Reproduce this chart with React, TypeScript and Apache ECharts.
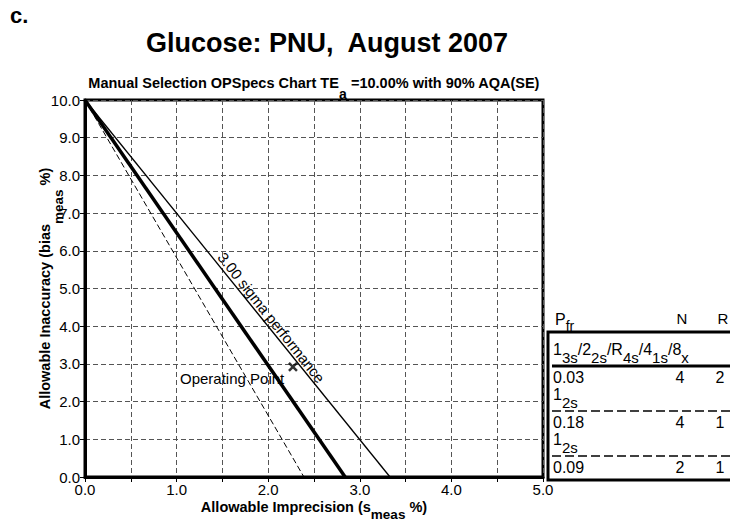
import React, { useEffect, useRef } from "react";
import * as echarts from "echarts";

const FONT = '"Liberation Sans", Arial, sans-serif';

// Lines in the OPSpecs chart (allowable imprecision, allowable inaccuracy)
const sigmaLine: number[][] = [[0, 10], [3.33, 0]];
const rule1Line: number[][] = [[0, 10], [2.84, 0]];
const rule2Line: number[][] = [[0, 10], [2.39, 0]];
const operatingPoint: number[][] = [[2.27, 2.92]];

const xTicks = [0, 1, 2, 3, 4, 5];
const yTicks = [0, 1, 2, 3, 4, 5, 6, 7, 8, 9, 10];

// Legend table
const ruleLabels = [
  "{m|1}{s|3s}{m|/2}{s|2s}{m|/R}{s|4s}{m|/4}{s|1s}{m|/8}{s|x}",
  "{m|1}{s|2s}",
  "{m|1}{s|2s}",
];
const pfrValues = ["0.03", "0.18", "0.09"];
const nValues = ["4", "4", "2"];
const rValues = ["2", "1", "1"];
const ruleLineStyles = ["thick", "dashed", "dashed"];

export default function App() {
  const ref = useRef<HTMLDivElement>(null);

  useEffect(() => {
    if (!ref.current) return;
    const chart = echarts.init(ref.current, null, { renderer: "svg" });

    const richSub = (size: number, subSize: number, weight: string) => ({
      m: { fontSize: size, fontWeight: weight, fontFamily: FONT, color: "#000", verticalAlign: "top" },
      s: { fontSize: subSize, fontWeight: weight, fontFamily: FONT, color: "#000", verticalAlign: "bottom" },
    });

    const tableEls: any[] = [];
    tableEls.push({
      type: "rect",
      shape: { x: 548, y: 332, width: 200, height: 148 },
      style: { fill: "none", stroke: "#000", lineWidth: 3 },
    });
    tableEls.push({
      type: "text",
      style: {
        text: "{m|P}{s|fr}",
        x: 555,
        y: 322,
        align: "left",
        verticalAlign: "middle",
        lineHeight: 22,
        rich: richSub(16, 14, "normal"),
      },
    });
    tableEls.push({
      type: "text",
      style: { text: "N", x: 682, y: 318, align: "center", verticalAlign: "middle", font: `15px ${FONT}`, fill: "#000" },
    });
    tableEls.push({
      type: "text",
      style: { text: "R", x: 723, y: 318, align: "center", verticalAlign: "middle", font: `15px ${FONT}`, fill: "#000" },
    });
    ruleLabels.forEach((lab, i) => {
      const lineY = 366 + 45 * i;
      tableEls.push({
        type: "text",
        style: {
          text: lab,
          x: 553,
          y: lineY - 1,
          align: "left",
          verticalAlign: "bottom",
          lineHeight: 24,
          rich: richSub(16, 15, "normal"),
        },
      });
      tableEls.push({
        type: "line",
        shape: { x1: 552, y1: lineY, x2: 735, y2: lineY },
        style:
          ruleLineStyles[i] === "thick"
            ? { stroke: "#000", lineWidth: 3 }
            : { stroke: "#000", lineWidth: 1.5, lineDash: [9, 4] },
      });
      tableEls.push({
        type: "text",
        style: { text: pfrValues[i], x: 553, y: lineY + 11, align: "left", verticalAlign: "middle", font: `16px ${FONT}`, fill: "#000" },
      });
      tableEls.push({
        type: "text",
        style: { text: nValues[i], x: 680, y: lineY + 11, align: "center", verticalAlign: "middle", font: `16px ${FONT}`, fill: "#000" },
      });
      tableEls.push({
        type: "text",
        style: { text: rValues[i], x: 720, y: lineY + 11, align: "center", verticalAlign: "middle", font: `16px ${FONT}`, fill: "#000" },
      });
    });

    const axisNameRich = {
      b: { fontSize: 14.5, fontWeight: "bold", fontFamily: FONT, color: "#000", verticalAlign: "top" },
      s: { fontSize: 13.5, fontWeight: "bold", fontFamily: FONT, color: "#000", verticalAlign: "bottom" },
    };

    const option: any = {
      animation: false,
      grid: {
        left: 85,
        top: 100,
        width: 458,
        height: 380,
        show: true,
        borderColor: "#000",
        borderWidth: 3,
        backgroundColor: "transparent",
      },
      xAxis: {
        type: "value",
        min: 0,
        max: 5,
        interval: 0.5,
        axisLine: { show: true, onZero: false, lineStyle: { color: "#000", width: 3 } },
        axisTick: { show: true, length: 5, lineStyle: { color: "#000", width: 1 } },
        axisLabel: {
          formatter: (v: number) => (xTicks.includes(v) ? v.toFixed(1) : ""),
          color: "#000",
          fontSize: 15,
          fontFamily: FONT,
          margin: 5,
        },
        splitLine: { show: true, lineStyle: { color: "#555", type: [5, 3], width: 1 } },
        name: "{b|Allowable Imprecision (s}{s|meas}{b| %)}",
        nameLocation: "middle",
        nameGap: 22,
        nameMoveOverlap: false,
        nameTextStyle: { lineHeight: 22, rich: axisNameRich },
      },
      yAxis: {
        type: "value",
        min: 0,
        max: 10,
        interval: 1,
        axisLine: { show: true, onZero: false, lineStyle: { color: "#000", width: 3 } },
        axisTick: { show: true, length: 5, lineStyle: { color: "#000", width: 1 } },
        axisLabel: {
          formatter: (v: number) => (yTicks.includes(v) ? v.toFixed(1) : ""),
          color: "#000",
          fontSize: 15,
          fontFamily: FONT,
          margin: 5,
        },
        splitLine: { show: true, lineStyle: { color: "#555", type: [5, 3], width: 1 } },
        name: "{b|Allowable Inaccuracy (bias}{s|meas}{b| %)}",
        nameLocation: "middle",
        nameRotate: 90,
        nameGap: 20,
        nameMoveOverlap: false,
        nameTextStyle: { lineHeight: 28, rich: axisNameRich },
      },
      series: [
        {
          type: "line",
          name: "3.00 sigma performance",
          data: sigmaLine,
          symbol: "none",
          lineStyle: { color: "#000", width: 1.3 },
          z: 3,
        },
        {
          type: "line",
          name: "1_3s/2_2s/R_4s/4_1s/8_x",
          data: rule1Line,
          symbol: "none",
          lineStyle: { color: "#000", width: 3.5 },
          z: 3,
        },
        {
          type: "line",
          name: "1_2s",
          data: rule2Line,
          symbol: "none",
          lineStyle: { color: "#000", width: 1, type: [6, 3] },
          z: 3,
        },
        {
          type: "scatter",
          name: "Operating Point",
          data: operatingPoint,
          symbol: "path://M0,0L10,10M10,0L0,10",
          symbolSize: 8,
          itemStyle: { color: "none", borderColor: "#000", borderWidth: 2.5 },
          z: 4,
        },
      ],
      graphic: [
        {
          type: "text",
          style: { text: "c.", x: 10, y: 15, align: "left", verticalAlign: "middle", font: `bold 22px ${FONT}`, fill: "#000" },
        },
        {
          type: "text",
          style: {
            text: "Glucose: PNU,  August 2007",
            x: 327,
            y: 43,
            align: "center",
            verticalAlign: "middle",
            font: `bold 27px ${FONT}`,
            fill: "#000",
          },
        },
        {
          type: "text",
          style: {
            text: "{m|Manual Selection OPSpecs Chart TE}{s|a}{m| =10.00% with 90% AQA(SE)}",
            x: 314,
            y: 88,
            align: "center",
            verticalAlign: "middle",
            lineHeight: 26,
            rich: richSub(14.5, 14, "bold"),
          },
        },
        {
          type: "text",
          style: {
            text: "Operating Point",
            x: 180,
            y: 378,
            align: "left",
            verticalAlign: "middle",
            font: `15px ${FONT}`,
            fill: "#000",
          },
        },
        {
          type: "text",
          x: 271.5,
          y: 317.6,
          rotation: -Math.atan2(380, 303),
          style: {
            text: "3.00 sigma performance",
            x: 0,
            y: 0,
            align: "center",
            verticalAlign: "middle",
            font: `15px ${FONT}`,
            fill: "#000",
          },
        },
        ...tableEls,
      ],
    };

    chart.setOption(option);
    return () => chart.dispose();
  }, []);

  return <div ref={ref} style={{ width: 730, height: 526, position: "absolute", left: 0, top: 0, background: "#fff" }} />;
}
